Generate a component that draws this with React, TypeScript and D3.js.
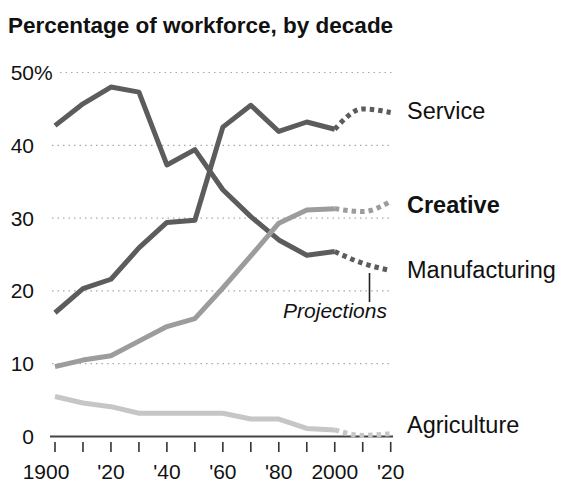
import React from "react";
import * as d3 from "d3";

const years = [1900, 1910, 1920, 1930, 1940, 1950, 1960, 1970, 1980, 1990, 2000];
const projYears = [2000, 2010, 2020];

const service = [17.0, 20.3, 21.6, 25.9, 29.4, 29.7, 42.5, 45.5, 41.9, 43.2, 42.2];
const serviceProj = [42.2, 45.0, 44.5];

const manufacturing = [42.7, 45.7, 48.0, 47.3, 37.3, 39.4, 33.9, 30.2, 27.0, 24.9, 25.4];
const manufacturingProj = [25.4, 23.8, 22.8];

const creative = [9.6, 10.5, 11.1, 13.1, 15.1, 16.2, 20.4, 24.8, 29.3, 31.1, 31.3];
const creativeProj = [31.3, 30.9, 32.3];

const agriculture = [5.5, 4.6, 4.1, 3.2, 3.2, 3.2, 3.2, 2.4, 2.4, 1.1, 0.9];
const agricultureProj = [0.9, 0.15, 0.4];

const yTicks = [0, 10, 20, 30, 40, 50];
const xTickYears = [1900, 1910, 1920, 1930, 1940, 1950, 1960, 1970, 1980, 1990, 2000, 2010, 2020];
const xLabelYears = [1900, 1920, 1940, 1960, 1980, 2000, 2020];
const xLabels = ["1900", "'20", "'40", "'60", "'80", "2000", "'20"];

const seriesNames = ["Service", "Creative", "Manufacturing", "Agriculture"];

const FONT = "'Liberation Sans', Arial, Helvetica, sans-serif";

export default function App() {
  const x = d3.scaleLinear().domain([1900, 2020]).range([55, 390.7]);
  const y = d3.scaleLinear().domain([0, 50]).range([436.5, 72.5]);

  const line = d3
    .line<[number, number]>()
    .x((d) => x(d[0]))
    .y((d) => y(d[1]))
    .curve(d3.curveLinear);
  const projLine = d3
    .line<[number, number]>()
    .x((d) => x(d[0]))
    .y((d) => y(d[1]))
    .curve(d3.curveMonotoneX);

  const dark = "#5c5c5c";
  const mid = "#9c9c9c";
  const light = "#c6c6c6";

  const series = [
    { vals: service, proj: serviceProj, color: dark },
    { vals: manufacturing, proj: manufacturingProj, color: dark },
    { vals: creative, proj: creativeProj, color: mid },
    { vals: agriculture, proj: agricultureProj, color: light },
  ];

  const labelPos = [
    { name: seriesNames[0], bold: false, dy: 119 },
    { name: seriesNames[1], bold: true, dy: 213 },
    { name: seriesNames[2], bold: false, dy: 278 },
    { name: seriesNames[3], bold: false, dy: 433 },
  ];

  return (
    <svg
      width={562}
      height={483}
      style={{ position: "absolute", left: 0, top: 0, display: "block", background: "#fff" }}
      fontFamily={FONT}
    >
      <rect width={562} height={483} fill="#fff" />
      <text x={8} y={33} fontSize={22.5} fontWeight="bold" fill="#111">
        Percentage of workforce, by decade
      </text>

      {/* grid */}
      {yTicks
        .filter((t) => t > 0)
        .map((t) => (
          <line
            key={"g" + t}
            x1={t === 50 ? 60 : 52}
            x2={393}
            y1={y(t)}
            y2={y(t)}
            stroke="#a8a8a8"
            strokeWidth={1.2}
            strokeDasharray="1.5,4"
          />
        ))}

      {/* y labels */}
      {yTicks.map((t) => (
        <g key={"yl" + t}>
          <text x={34} y={y(t) + 7.5} fontSize={21} textAnchor="end" fill="#111">
            {t}
          </text>
          {t === 50 && (
            <text x={34} y={y(t) + 7.5} fontSize={21} textAnchor="start" fill="#111">
              %
            </text>
          )}
        </g>
      ))}

      {/* axis */}
      <line x1={50} x2={393} y1={y(0)} y2={y(0)} stroke="#444" strokeWidth={2} />
      {xTickYears.map((yr) => (
        <line key={"t" + yr} x1={x(yr)} x2={x(yr)} y1={442} y2={452} stroke="#333" strokeWidth={1.6} />
      ))}
      {xLabelYears.map((yr, i) => (
        <text
          key={"xl" + yr + i}
          x={x(yr) + (i === 0 ? -9 : 0)}
          y={479}
          fontSize={21}
          textAnchor="middle"
          fill="#111"
        >
          {xLabels[i]}
        </text>
      ))}

      {/* lines */}
      {series.map((s, i) => (
        <g key={"s" + i}>
          <path
            d={line(years.map((yr, j) => [yr, s.vals[j]]) as [number, number][]) || ""}
            fill="none"
            stroke={s.color}
            strokeWidth={5}
            strokeLinejoin="round"
          />
          <path
            d={projLine(projYears.map((yr, j) => [yr, s.proj[j]]) as [number, number][]) || ""}
            fill="none"
            stroke={s.color}
            strokeWidth={5}
            strokeDasharray="4.5,4"
          />
        </g>
      ))}

      {/* projections annotation */}
      <line x1={369.5} x2={369.5} y1={273} y2={302} stroke="#222" strokeWidth={1.6} />
      <text x={335} y={318} fontSize={21} fontStyle="italic" textAnchor="middle" fill="#111">
        Projections
      </text>

      {/* series labels */}
      {labelPos.map((l) => (
        <text
          key={l.name}
          x={407}
          y={l.dy}
          fontSize={23.5}
          fontWeight={l.bold ? "bold" : "normal"}
          fill="#111"
        >
          {l.name}
        </text>
      ))}
    </svg>
  );
}
